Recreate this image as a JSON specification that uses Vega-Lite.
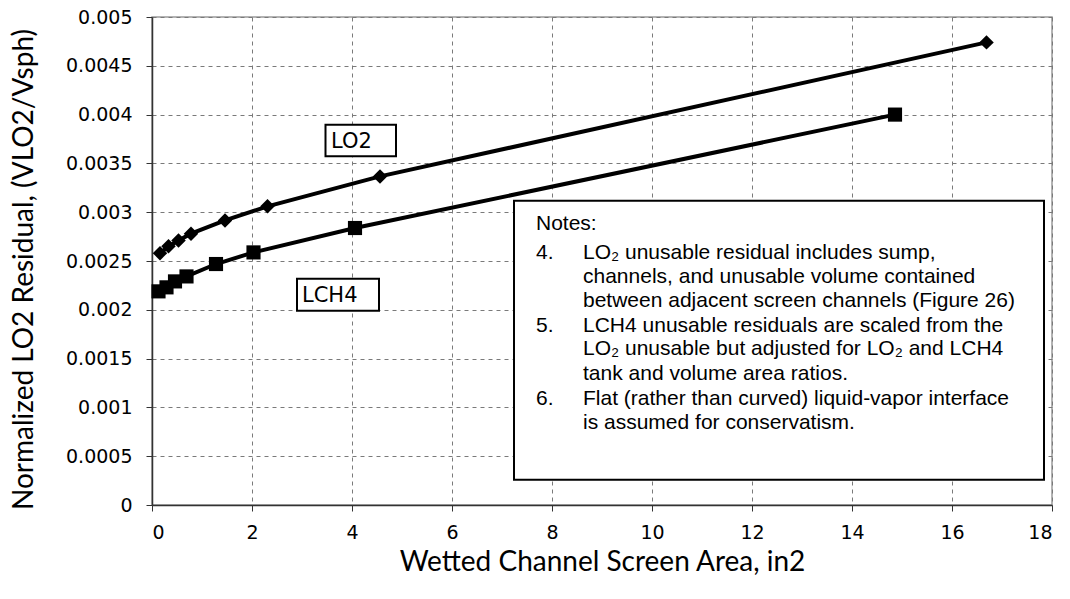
{
  "$schema": "https://vega.github.io/schema/vega-lite/v6.json",
  "width": 900,
  "height": 488,
  "autosize": "none",
  "padding": {"left": 152, "top": 17, "right": 18, "bottom": 94},
  "background": "white",
  "config": {
    "view": {"stroke": "#9a9a9a", "strokeWidth": 1.5},
    "axis": {
      "domainColor": "#333333",
      "domainWidth": 1.5,
      "tickColor": "#333333",
      "tickSize": 6,
      "gridColor": "#7a7a7a",
      "gridDash": [4, 4],
      "gridWidth": 1,
      "labelFont": "DejaVu Sans",
      "labelFontSize": 19,
      "labelColor": "#000000",
      "titleFont": "Lato",
      "titleFontWeight": "normal",
      "titleColor": "#000000"
    }
  },
  "datasets": {
    "series": [
      {"series": "LO2", "area": 0.16, "residual": 0.00258},
      {"series": "LO2", "area": 0.33, "residual": 0.00265},
      {"series": "LO2", "area": 0.53, "residual": 0.00271},
      {"series": "LO2", "area": 0.78, "residual": 0.00278},
      {"series": "LO2", "area": 1.46, "residual": 0.002916},
      {"series": "LO2", "area": 2.31, "residual": 0.00306},
      {"series": "LO2", "area": 4.56, "residual": 0.003367},
      {"series": "LO2", "area": 16.69, "residual": 0.00474},
      {"series": "LCH4", "area": 0.13, "residual": 0.002189},
      {"series": "LCH4", "area": 0.29, "residual": 0.00223},
      {"series": "LCH4", "area": 0.46, "residual": 0.002291},
      {"series": "LCH4", "area": 0.69, "residual": 0.002342},
      {"series": "LCH4", "area": 1.28, "residual": 0.002469},
      {"series": "LCH4", "area": 2.03, "residual": 0.002588},
      {"series": "LCH4", "area": 4.06, "residual": 0.002838},
      {"series": "LCH4", "area": 14.86, "residual": 0.0040}
    ],
    "boxes": [
      {"name": "LO2", "x1": 3.47, "x2": 4.88, "y1": 0.003572, "y2": 0.003896},
      {"name": "LCH4", "x1": 2.9, "x2": 4.54, "y1": 0.001991, "y2": 0.002319},
      {"name": "Notes", "x1": 7.24, "x2": 17.84, "y1": 0.000259, "y2": 0.003118}
    ],
    "labels": [
      {"text": "LO2", "x": 3.58, "y": 0.003661},
      {"text": "LCH4", "x": 3.0, "y": 0.002083}
    ],
    "notes": [
      {"text": "Notes:", "x": 7.68, "y": 0.002814},
      {"text": "4.", "x": 7.68, "y": 0.002524},
      {"text": "LO₂ unusable residual includes sump,", "x": 8.62, "y": 0.002524},
      {"text": "channels, and unusable volume contained", "x": 8.62, "y": 0.002278},
      {"text": "between adjacent screen channels (Figure 26)", "x": 8.62, "y": 0.002032},
      {"text": "5.", "x": 7.68, "y": 0.001776},
      {"text": "LCH4 unusable residuals are scaled from the", "x": 8.62, "y": 0.001776},
      {"text": "LO₂ unusable but adjusted for LO₂ and LCH4", "x": 8.62, "y": 0.00154},
      {"text": "tank and volume area ratios.", "x": 8.62, "y": 0.001284},
      {"text": "6.", "x": 7.68, "y": 0.001028},
      {"text": "Flat (rather than curved) liquid-vapor interface", "x": 8.62, "y": 0.001028},
      {"text": "is assumed for conservatism.", "x": 8.62, "y": 0.000782}
    ]
  },
  "layer": [
    {
      "data": {"name": "series"},
      "mark": {"type": "line", "color": "black", "strokeWidth": 4},
      "encoding": {
        "x": {
          "field": "area", "type": "quantitative",
          "scale": {"domain": [0, 18], "nice": false, "zero": false},
          "axis": {
            "values": [0, 2, 4, 6, 8, 10, 12, 14, 16, 18],
            "title": "Wetted Channel Screen Area, in2",
            "titleFontSize": 28,
            "titleBaseline": "alphabetic",
            "titleY": 65,
            "labelPadding": 12,
            "grid": true
          }
        },
        "y": {
          "field": "residual", "type": "quantitative",
          "scale": {"domain": [0, 0.005], "nice": false},
          "axis": {
            "values": [0, 0.0005, 0.001, 0.0015, 0.002, 0.0025, 0.003, 0.0035, 0.004, 0.0045, 0.005],
            "format": "~g",
            "title": "Normalized LO2 Residual, (VLO2/Vsph)",
            "titleFontSize": 28,
            "titleAngle": -90,
            "titleAlign": "center",
            "titleBaseline": "middle",
            "titleX": -128,
            "titleY": 252,
            "labelPadding": 14,
            "grid": true
          }
        },
        "detail": {"field": "series"}
      }
    },
    {
      "data": {"name": "series"},
      "mark": {"type": "point", "filled": true, "opacity": 1, "color": "black"},
      "encoding": {
        "x": {"field": "area", "type": "quantitative"},
        "y": {"field": "residual", "type": "quantitative"},
        "shape": {
          "field": "series", "type": "nominal",
          "scale": {"domain": ["LO2", "LCH4"], "range": ["diamond", "square"]},
          "legend": null
        },
        "size": {
          "field": "series", "type": "nominal",
          "scale": {"domain": ["LO2", "LCH4"], "range": [210, 200]},
          "legend": null
        }
      }
    },
    {
      "data": {"name": "boxes"},
      "mark": {"type": "rect", "fill": "white", "stroke": "black", "strokeWidth": 2},
      "encoding": {
        "x": {"field": "x1", "type": "quantitative"},
        "x2": {"field": "x2"},
        "y": {"field": "y1", "type": "quantitative"},
        "y2": {"field": "y2"}
      }
    },
    {
      "data": {"name": "labels"},
      "mark": {"type": "text", "align": "left", "baseline": "alphabetic", "font": "DejaVu Sans", "fontSize": 21, "color": "black"},
      "encoding": {
        "x": {"field": "x", "type": "quantitative"},
        "y": {"field": "y", "type": "quantitative"},
        "text": {"field": "text"}
      }
    },
    {
      "data": {"name": "notes"},
      "mark": {"type": "text", "align": "left", "baseline": "alphabetic", "font": "Liberation Sans", "fontSize": 21, "color": "black"},
      "encoding": {
        "x": {"field": "x", "type": "quantitative"},
        "y": {"field": "y", "type": "quantitative"},
        "text": {"field": "text"}
      }
    }
  ]
}
